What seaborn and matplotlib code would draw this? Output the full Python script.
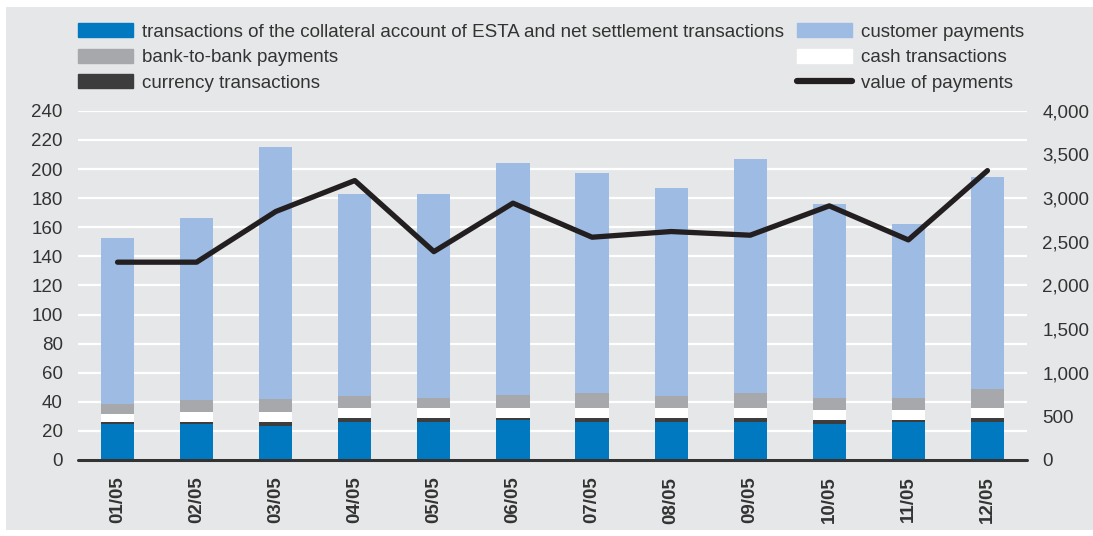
import numpy as np
import pandas as pd
import matplotlib
matplotlib.use("Agg")
import matplotlib.pyplot as plt
from matplotlib.patches import Patch, Rectangle
from matplotlib.lines import Line2D
from matplotlib.ticker import FuncFormatter, MultipleLocator
import seaborn as sns

# Monthly payment system data (number of transactions, thousands; value, EEK bn)
months = ["01/05", "02/05", "03/05", "04/05", "05/05", "06/05",
          "07/05", "08/05", "09/05", "10/05", "11/05", "12/05"]
esta = [24.8, 24.8, 23.4, 26.1, 26.1, 27.5, 26.1, 26.1, 26.1, 24.8, 26.1, 26.1]
currency = [1.4, 1.4, 2.7, 2.8, 2.8, 1.4, 2.8, 2.8, 2.8, 2.7, 1.4, 2.8]
cash = [5.5, 6.9, 6.9, 6.9, 6.9, 6.9, 6.9, 6.9, 6.9, 6.9, 6.9, 6.9]
bank_to_bank = [6.9, 8.3, 9.0, 8.2, 6.8, 8.9, 10.3, 8.2, 10.3, 8.2, 8.2, 13.0]
customer = [114.2, 125.1, 173.3, 139.0, 140.4, 159.6, 151.3, 143.1, 160.9, 133.4, 119.7, 145.8]
payment_value = [2266, 2266, 2846, 3201, 2387, 2942, 2552, 2617, 2575, 2911, 2521, 3315]

labels = ["transactions of the collateral account of ESTA and net settlement transactions",
          "currency transactions", "cash transactions", "bank-to-bank payments",
          "customer payments"]
C_ESTA = "#0079c1"
C_CUR = "#3d3d3d"
C_CASH = "#ffffff"
C_B2B = "#a7a8ab"
C_CUST = "#9dbbe3"
C_LINE = "#231f20"
BG = "#e6e7e8"
TXT = "#333333"
FS = 13.5

sns.set_theme(style="white")
plt.rcParams["font.family"] = ["Liberation Sans", "DejaVu Sans"]

df = pd.DataFrame({"month": months, "esta": esta, "currency": currency, "cash": cash,
                   "b2b": bank_to_bank, "customer": customer})
layers = ["esta", "currency", "cash", "b2b", "customer"]
colors = [C_ESTA, C_CUR, C_CASH, C_B2B, C_CUST]
cum = df[layers].cumsum(axis=1)

W, H = 1093, 536
fig = plt.figure(figsize=(W / 100, H / 100), dpi=100, facecolor="white")
fig.patches.append(Rectangle((6 / W, 6 / H), 1 - 6 / W, 1 - 13 / H,
                             transform=fig.transFigure, facecolor=BG,
                             edgecolor="none", zorder=-10))

ax = fig.add_axes([78 / W, 1 - 460 / H, (1027 - 78) / W, (460 - 110.8) / H])
ax.set_facecolor("none")

# stacked bars: draw cumulative totals from the top layer down
for layer, col in reversed(list(zip(layers, colors))):
    sns.barplot(x=df["month"], y=cum[layer], color=col, saturation=1,
                width=0.42, linewidth=0, ax=ax, zorder=2)

ax.set_ylim(0, 240)
ax.set_xlim(-0.5, 11.5)
ax.yaxis.set_major_locator(MultipleLocator(20))
ax.grid(axis="y", color="white", linewidth=1.6)
ax.grid(axis="x", visible=False)
ax.set_axisbelow(True)
for s in ax.spines.values():
    s.set_visible(False)
ax.set_xlabel("")
ax.set_ylabel("")
ax.tick_params(axis="y", length=0, pad=11, labelsize=FS, labelcolor=TXT)
ax.tick_params(axis="x", length=0, pad=12, labelsize=FS, labelcolor=TXT)
for t in ax.get_xticklabels():
    t.set_rotation(90)
    t.set_fontweight("bold")
ax.axhline(0, color="#333333", linewidth=2.2, zorder=4, clip_on=False)

ax2 = ax.twinx()
sns.lineplot(x=np.arange(len(months)), y=payment_value, ax=ax2, color=C_LINE,
             linewidth=3.8, zorder=5)
ax2.set_ylim(0, 4000)
ax2.set_xlim(-0.5, 11.5)
ax2.yaxis.set_major_locator(MultipleLocator(500))
ax2.yaxis.set_major_formatter(FuncFormatter(lambda v, p: f"{v:,.0f}"))
ax2.tick_params(axis="y", length=0, pad=11, labelsize=FS, labelcolor=TXT)
ax2.set_facecolor("none")
ax2.grid(False)
for s in ax2.spines.values():
    s.set_visible(False)
ax2.set_ylabel("")

legend_kw = dict(loc="upper left", frameon=False, fontsize=FS, handlelength=2.93,
                 handleheight=0.8, handletextpad=0.48, labelspacing=0.42,
                 borderaxespad=0, borderpad=0, labelcolor=TXT)
h1 = [Patch(color=C_ESTA), Patch(color=C_B2B), Patch(color=C_CUR)]
l1 = [labels[0], labels[3], labels[1]]
h2 = [Patch(color=C_CUST), Patch(color=C_CASH), Line2D([], [], color=C_LINE, linewidth=4.5)]
l2 = [labels[4], labels[2], "value of payments"]
fig.legend(h1, l1, bbox_to_anchor=(78 / W, 1 - 23 / H), **legend_kw)
fig.legend(h2, l2, bbox_to_anchor=(797 / W, 1 - 23 / H), **legend_kw)

fig.savefig("out.png", dpi=100, facecolor=fig.get_facecolor())
